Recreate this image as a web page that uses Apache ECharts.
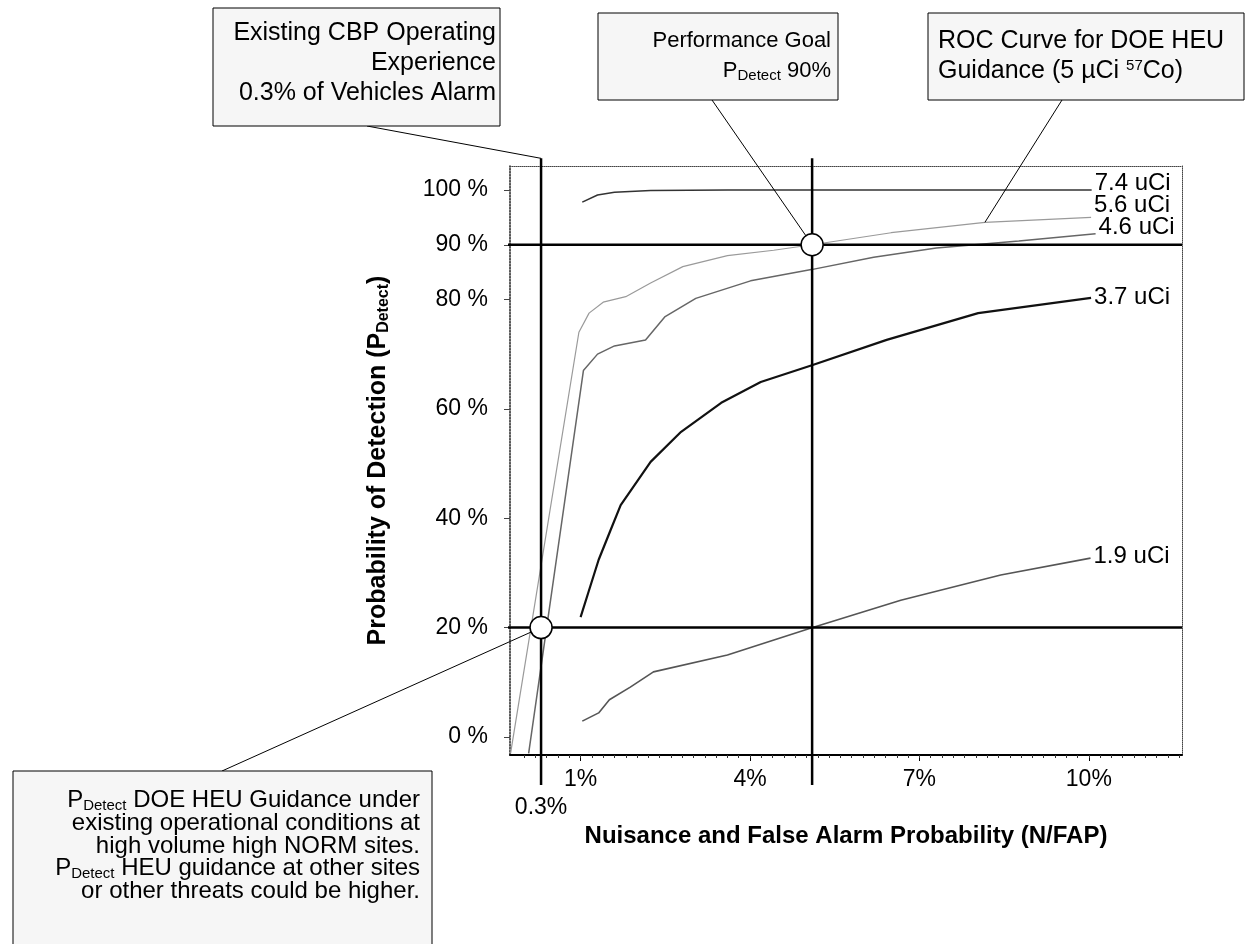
<!DOCTYPE html>
<html>
<head>
<meta charset="utf-8">
<script src="https://cdn.jsdelivr.net/npm/echarts@6/dist/echarts.min.js"></script>
<style>
html, body { margin: 0; padding: 0; background: #fff; }
#main { width: 1249px; height: 944px; }
</style>
</head>
<body>
<div id="main"></div>
<script>
// x = nuisance/false alarm probability (%), y = probability of detection (%)
var xLabels = [0.3, 1, 4, 7, 10];
var yLabels = [0, 20, 40, 60, 80, 90, 100];

var curve74 = [[1.03, 97.8], [1.3, 99.1], [1.6, 99.6], [2.24, 99.9], [3.6, 100], [6, 100], [8, 100], [10.05, 100]];
var curve56 = [[-0.24, -3], [0.97, 74], [1.15, 77.5], [1.4, 79.5], [1.8, 80.5], [2.24, 83], [2.81, 86], [3.6, 88], [4.42, 89], [5.1, 90], [6.5, 92.2], [8.16, 94.1], [10.04, 95]];
var curve46 = [[0.08, -3], [1.05, 67], [1.3, 70], [1.6, 71.5], [2.15, 72.6], [2.49, 76.8], [3.04, 80.2], [4.01, 83.4], [5.11, 85.5], [6.19, 87.7], [7.3, 89.4], [8.76, 90.7], [10.12, 92]];
var curve37 = [[1.0, 21.9], [1.14, 26.5], [1.32, 32.4], [1.53, 37.8], [1.71, 42.4], [2.24, 50.3], [2.78, 55.8], [3.49, 61.1], [4.19, 64.9], [5.11, 68], [6.42, 72.6], [8.04, 77.5], [10.04, 80.3]];
var curve19 = [[1.03, 2.9], [1.32, 4.4], [1.51, 6.8], [1.88, 9.1], [2.29, 11.9], [3.6, 15], [5.11, 20], [6.67, 25], [8.44, 29.6], [10.03, 32.7]];

// operating experience and goal
var cbpFap = 0.3;
var goalFap = 5.1;
var pdLow = 20;
var pdGoal = 90;

var xMin = -0.25, xMax = 11.65;
var yMin = -3.3, yMax = 104.4;

var chart = echarts.init(document.getElementById('main'));
var font = 'Arial, "Liberation Sans", sans-serif';

// small ticks along the bottom axis
var minorTicks = [];
for (var t = 0; t <= 11.6; t += 0.2) minorTicks.push(Math.round(t * 10) / 10);

function curve(name, data, color, width) {
  return {
    type: 'line', name: name, data: data, showSymbol: false, symbol: 'none',
    clip: false, z: 3,
    lineStyle: { color: color, width: width },
    endLabel: {
      show: true, formatter: name, color: '#000', fontFamily: font, fontSize: 24,
      distance: 3
    }
  };
}

function refLine(data) {
  return {
    type: 'line', data: data, showSymbol: false, symbol: 'none', clip: false, z: 4,
    silent: true, lineStyle: { color: '#000', width: 2.5 }
  };
}

var option = {
  backgroundColor: '#fff',
  animation: false,
  grid: { left: 510, right: 67, top: 166, bottom: 189 },
  xAxis: [{
    type: 'value', min: xMin, max: xMax, position: 'bottom',
    axisLine: { onZero: false, lineStyle: { color: '#000', width: 2 } },
    axisTick: { customValues: [1, 4, 7, 10], length: 6, lineStyle: { color: '#000' } },
    axisLabel: {
      customValues: xLabels, margin: 13, color: '#000', fontFamily: font, fontSize: 23,
      formatter: function (v) { return v === 0.3 ? '{low|0.3%}' : v + '%'; },
      rich: { low: { fontFamily: font, fontSize: 23, color: '#000', padding: [28, 0, 0, 0] } }
    },
    splitLine: { show: false },
    name: 'Nuisance and False Alarm Probability (N/FAP)',
    nameLocation: 'middle', nameGap: 50,
    nameTextStyle: { fontFamily: font, fontSize: 24, fontWeight: 'bold', color: '#000' }
  }, {
    type: 'value', min: xMin, max: xMax, position: 'bottom',
    axisLine: { onZero: false, show: false },
    axisTick: { customValues: minorTicks, length: 3, lineStyle: { color: '#333' } },
    axisLabel: { show: false }, splitLine: { show: false }
  }, {
    type: 'value', min: xMin, max: xMax, position: 'top',
    axisLine: { onZero: false, lineStyle: { color: '#444', width: 1, type: 'dotted' } },
    axisTick: { show: false }, axisLabel: { show: false }, splitLine: { show: false }
  }],
  yAxis: [{
    type: 'value', min: yMin, max: yMax, position: 'left',
    axisLine: { onZero: false, show: true, lineStyle: { color: '#222', width: 1.5, type: 'dotted' } },
    axisTick: { show: true, customValues: yLabels, length: 6, lineStyle: { color: '#444' } },
    axisLabel: {
      customValues: yLabels, margin: 22, color: '#000', fontFamily: font, fontSize: 23,
      formatter: '{value} %'
    },
    splitLine: { show: false },
    name: 'Probability of Detection (P{sub|Detect})',
    nameLocation: 'middle', nameGap: 118,
    nameTextStyle: {
      fontFamily: font, fontSize: 25, fontWeight: 'bold', color: '#000',
      rich: { sub: { fontFamily: font, fontSize: 16, fontWeight: 'bold', color: '#000', padding: [12, 0, 0, 0] } }
    }
  }, {
    type: 'value', min: yMin, max: yMax, position: 'right',
    axisLine: { onZero: false, show: true, lineStyle: { color: '#444', width: 1, type: 'dotted' } },
    axisTick: { show: false }, axisLabel: { show: false }, splitLine: { show: false }
  }],
  series: [
    curve('7.4 uCi', curve74, '#333', 1.5),
    curve('5.6 uCi', curve56, '#9a9a9a', 1.2),
    curve('4.6 uCi', curve46, '#666', 1.5),
    curve('3.7 uCi', curve37, '#111', 2.2),
    curve('1.9 uCi', curve19, '#555', 1.6),
    refLine([[-0.65, pdLow], [xMax, pdLow]]),
    refLine([[-0.65, pdGoal], [xMax, pdGoal]]),
    refLine([[cbpFap, 105.8], [cbpFap, -8.8]]),
    refLine([[goalFap, 105.8], [goalFap, -8.8]]),
    {
      type: 'scatter', data: [[cbpFap, pdLow], [goalFap, pdGoal]], symbolSize: 22, z: 6,
      itemStyle: { color: '#fff', borderColor: '#000', borderWidth: 1.5, opacity: 1 }
    }
  ]
};
option.series[0].endLabel.offset = [0, -7];
option.series[1].endLabel.offset = [0, -12];
option.series[2].endLabel.offset = [0, -6];
option.series[4].endLabel.offset = [0, -2];

chart.setOption(option);

// callout boxes with leader lines
function px(p) { return chart.convertToPixel({ gridIndex: 0 }, p); }

var boxFill = '#f6f6f6';
var rich = {
  sub: { fontSize: 15, fontFamily: font, fill: '#000', padding: [10, 0, 0, 0] },
  sup: { fontSize: 15, fontFamily: font, fill: '#000', padding: [0, 0, 10, 0] }
};

function leader(from, to) {
  return { type: 'line', z: 5, shape: { x1: from[0], y1: from[1], x2: to[0], y2: to[1] }, style: { stroke: '#000', lineWidth: 1 } };
}
function box(x, y, w, h) {
  return { type: 'rect', z: 10, shape: { x: x, y: y, width: w, height: h }, style: { fill: boxFill, stroke: '#000', lineWidth: 1 } };
}
function label(x, y, text, align, size, lh) {
  return {
    type: 'text', z: 11, x: x, y: y,
    style: { text: text, fill: '#000', font: size + 'px ' + font, align: align, verticalAlign: 'middle', lineHeight: lh, rich: rich }
  };
}

chart.setOption({
  graphic: [
    leader([367, 126], px([cbpFap, 105.8])),
    leader([712, 100], px([goalFap, pdGoal])),
    leader([1062, 100], px([8.16, 94.1])),
    leader([222, 771], px([cbpFap, pdLow])),
    box(213, 8, 287, 118),
    label(496, 63, 'Existing CBP Operating\nExperience\n0.3% of Vehicles Alarm', 'right', 25, 30),
    box(598, 13, 240, 87),
    label(831, 56, 'Performance Goal\nP{sub|Detect} 90%', 'right', 22, 30),
    box(928, 13, 316, 87),
    label(938, 56, 'ROC Curve for DOE HEU\nGuidance (5 µCi {sup|57}Co)', 'left', 25, 30),
    box(13, 771, 419, 190),
    label(420, 846, 'P{sub|Detect} DOE HEU Guidance under\nexisting operational conditions at\nhigh volume high NORM sites.\nP{sub|Detect} HEU guidance at other sites\nor other threats could be higher.', 'right', 24, 22.7)
  ]
});
</script>
</body>
</html>
